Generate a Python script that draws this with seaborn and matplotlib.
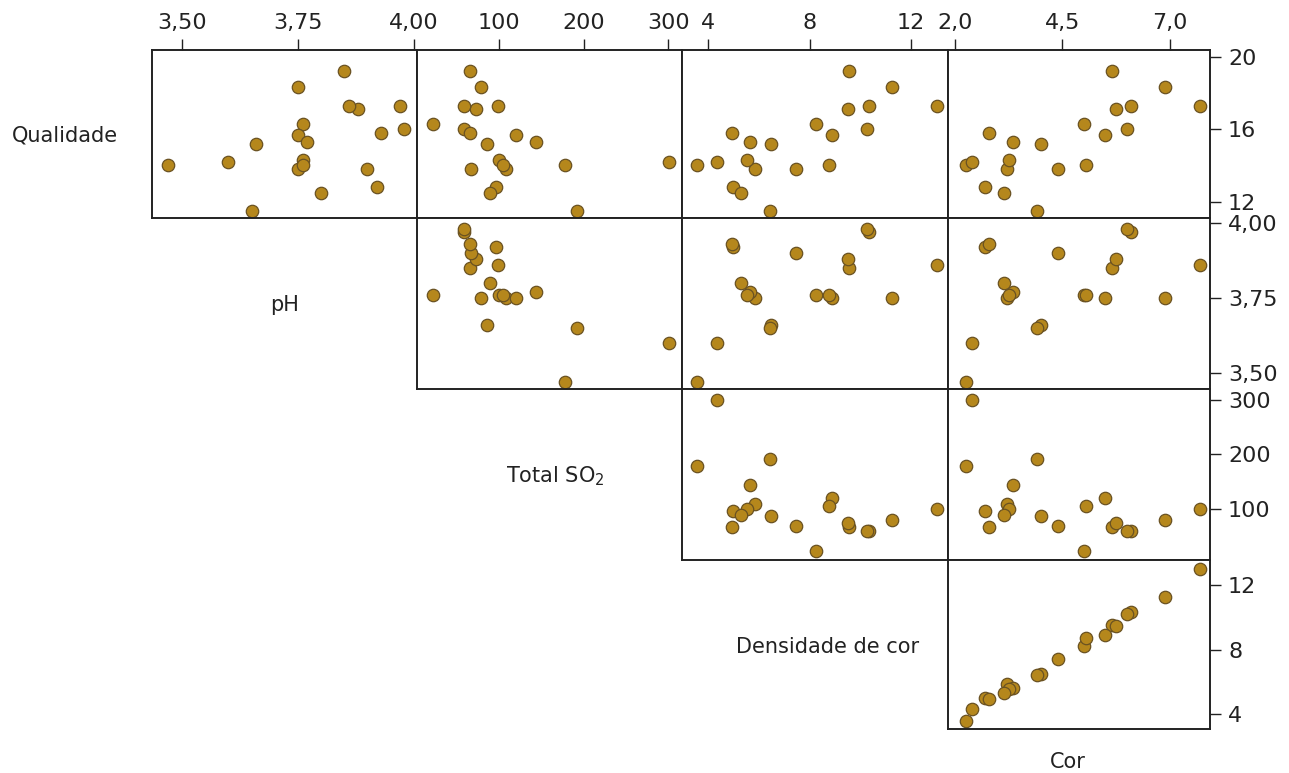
import matplotlib
matplotlib.use("Agg")
import matplotlib.pyplot as plt
import seaborn as sns
import pandas as pd
from matplotlib.ticker import FixedLocator, FuncFormatter

# wine data (20 young red wines)
qualidade = [19.2, 18.3, 17.1, 15.2, 14.0, 13.8, 12.8, 17.3, 16.3, 16.0,
             15.7, 15.3, 14.3, 14.0, 13.8, 12.5, 11.5, 14.2, 17.3, 15.8]
ph = [3.85, 3.75, 3.88, 3.66, 3.47, 3.75, 3.92, 3.97, 3.76, 3.98,
      3.75, 3.77, 3.76, 3.76, 3.90, 3.80, 3.65, 3.60, 3.86, 3.93]
so2 = [66, 79, 73, 86, 178, 108, 96, 59, 22, 58,
       120, 144, 100, 104, 67, 89, 192, 301, 99, 66]
densidade = [9.55, 11.25, 9.5, 6.5, 3.58, 5.85, 5.0, 10.35, 8.25, 10.25,
             8.9, 5.65, 5.55, 8.75, 7.45, 5.3, 6.45, 4.35, 13.0, 4.95]
cor = [5.65, 6.90, 5.75, 4.00, 2.25, 3.20, 2.70, 6.10, 5.00, 6.00,
       5.50, 3.35, 3.25, 5.05, 4.40, 3.15, 3.90, 2.40, 7.70, 2.80]

df = pd.DataFrame({"Qualidade": qualidade, "pH": ph, "SO2": so2,
                   "Densidade": densidade, "Cor": cor})

row_vars = ["Qualidade", "pH", "SO2", "Densidade"]
col_vars = ["pH", "SO2", "Densidade", "Cor"]

row_ticks = {"Qualidade": [12, 16, 20], "pH": [3.50, 3.75, 4.00],
             "SO2": [100, 200, 300], "Densidade": [4, 8, 12]}
col_ticks = {"pH": [3.50, 3.75, 4.00], "SO2": [100, 200, 300],
             "Densidade": [4, 8, 12], "Cor": [2.0, 4.5, 7.0]}
row_lims = {"Qualidade": (11.1, 20.36), "pH": (3.447, 4.017),
            "SO2": (5, 321), "Densidade": (3.09, 13.57)}
col_lims = {"pH": (3.435, 4.007), "SO2": (3, 316),
            "Densidade": (2.98, 13.45), "Cor": (1.837, 7.94)}
decimals = {"Qualidade": 0, "pH": 2, "SO2": 0, "Densidade": 0, "Cor": 1}

sns.set_theme(style="white")
plt.rcParams["font.family"] = ["DejaVu Sans"]
plt.rcParams["mathtext.default"] = "regular"

W, H = 1289, 773
fig = plt.figure(figsize=(W / 100, H / 100), dpi=100)

col_edges = [152, 417, 682, 948, 1210]
row_edges = [50, 218, 389, 560, 729]

point_color = "#b5871c"
edge_color = "#6a5222"
ink = "#222222"


def comma_fmt(nd):
    return FuncFormatter(lambda v, p: f"{v:.{nd}f}".replace(".", ","))


for i, rv in enumerate(row_vars):
    for j, cv in enumerate(col_vars):
        if j < i:
            continue
        l, r = col_edges[j], col_edges[j + 1]
        t, b = row_edges[i], row_edges[i + 1]
        ax = fig.add_axes([l / W, 1 - b / H, (r - l) / W, (b - t) / H])
        sns.scatterplot(data=df, x=cv, y=rv, ax=ax, s=80, color=point_color,
                        edgecolor=edge_color, linewidth=0.9, legend=False)
        ax.set_xlim(*col_lims[cv])
        ax.set_ylim(*row_lims[rv])
        ax.set_xlabel("")
        ax.set_ylabel("")
        for sp in ax.spines.values():
            sp.set_color(ink)
            sp.set_linewidth(1.4)
        ax.tick_params(left=False, bottom=False, labelleft=False, labelbottom=False)
        if i == 0:
            ax.xaxis.tick_top()
            ax.xaxis.set_major_locator(FixedLocator(col_ticks[cv]))
            ax.xaxis.set_major_formatter(comma_fmt(decimals[cv]))
            ax.tick_params(axis="x", top=True, labeltop=True, direction="out",
                           length=8, width=1.0, color=ink, pad=4,
                           labelsize=16, labelcolor=ink)
            for lab in ax.get_xticklabels():
                lab.set_family(["DejaVu Sans Condensed", "DejaVu Sans"])
        else:
            ax.set_xticks([])
        if j == 3:
            ax.yaxis.tick_right()
            ax.yaxis.set_major_locator(FixedLocator(row_ticks[rv]))
            ax.yaxis.set_major_formatter(comma_fmt(decimals[rv]))
            ax.tick_params(axis="y", right=True, labelright=True, direction="out",
                           length=8, width=1.0, color=ink, pad=5,
                           labelsize=16, labelcolor=ink)
        else:
            ax.set_yticks([])

labels = [("Qualidade", 65, 135), ("pH", 285, 305), ("Total SO$_2$", 555, 476),
          ("Densidade de cor", 828, 647), ("Cor", 1068, 762)]
for txt, x, y in labels:
    fig.text(x / W, 1 - y / H, txt, ha="center", va="center",
             fontsize=15, color=ink)

fig.savefig("out.png", dpi=100, facecolor="white")
